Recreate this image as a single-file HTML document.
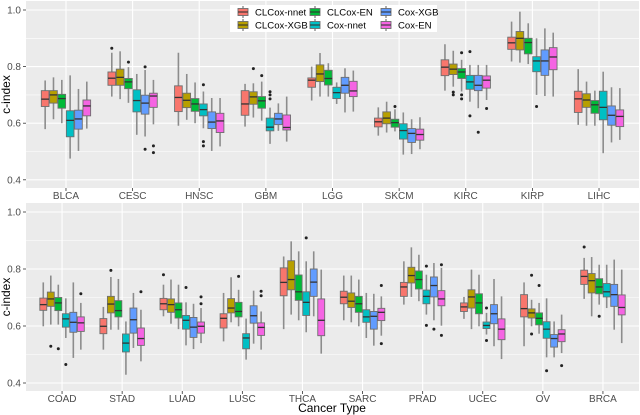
<!DOCTYPE html>
<html><head><meta charset="utf-8">
<style>
html,body{margin:0;padding:0;background:#fff;}
svg{display:block;font-family:"Liberation Sans",sans-serif;}
</style></head>
<body>
<svg id="chart" width="640" height="415" viewBox="0 0 640 415" xmlns="http://www.w3.org/2000/svg"></svg>
<script>
// ---------- data ----------
const methods = ["CLCox-nnet","CLCox-XGB","CLCox-EN","Cox-nnet","Cox-XGB","Cox-EN"];
const colors = ["#F8766D","#B79F00","#00BA38","#00BFC4","#619CFF","#F564E3"];
const yTicks = [0.4,0.6,0.8,1.0];
const yMinor = [0.5,0.7,0.9];
const topCats = ["BLCA","CESC","HNSC","GBM","LGG","SKCM","KIRC","KIRP","LIHC"];
const botCats = ["COAD","STAD","LUAD","LUSC","THCA","SARC","PRAD","UCEC","OV","BRCA"];
// each entry: [lowWhisker, q1, median, q3, highWhisker]
const top_clnnet = [[0.579,0.659,0.685,0.715,0.751],[0.694,0.734,0.759,0.781,0.849],[0.591,0.641,0.691,0.732,0.849],[0.588,0.628,0.668,0.715,0.739],[0.68,0.727,0.752,0.76,0.80],[0.556,0.587,0.605,0.618,0.656],[0.715,0.768,0.798,0.824,0.879],[0.818,0.861,0.884,0.904,0.959],[0.594,0.638,0.686,0.713,0.791]];
const top_clxgb = [[0.614,0.671,0.70,0.715,0.762],[0.685,0.734,0.762,0.791,0.854],[0.612,0.655,0.681,0.706,0.774],[0.62,0.667,0.693,0.711,0.741],[0.694,0.747,0.774,0.806,0.848],[0.567,0.598,0.618,0.64,0.676],[0.729,0.772,0.791,0.809,0.856],[0.814,0.859,0.90,0.924,0.994],[0.591,0.656,0.682,0.704,0.747]];
const top_clen = [[0.60,0.653,0.687,0.702,0.753],[0.672,0.722,0.746,0.758,0.798],[0.60,0.642,0.668,0.687,0.744],[0.609,0.653,0.679,0.694,0.747],[0.694,0.735,0.758,0.787,0.812],[0.571,0.586,0.602,0.614,0.649],[0.712,0.758,0.781,0.793,0.824],[0.809,0.845,0.885,0.90,0.953],[0.591,0.635,0.665,0.68,0.715]];
const top_coxnnet = [[0.475,0.552,0.61,0.644,0.769],[0.559,0.64,0.68,0.718,0.774],[0.582,0.626,0.648,0.668,0.712],[0.527,0.573,0.586,0.618,0.655],[0.668,0.687,0.708,0.727,0.744],[0.489,0.544,0.574,0.598,0.638],[0.676,0.72,0.746,0.769,0.806],[0.70,0.782,0.82,0.835,0.90],[0.494,0.612,0.656,0.713,0.782]];
const top_coxxgb = [[0.502,0.579,0.615,0.646,0.721],[0.553,0.632,0.671,0.699,0.788],[0.502,0.581,0.604,0.64,0.689],[0.573,0.595,0.615,0.635,0.67],[0.638,0.706,0.734,0.762,0.794],[0.491,0.532,0.564,0.581,0.614],[0.653,0.715,0.734,0.769,0.806],[0.696,0.769,0.82,0.859,0.935],[0.532,0.593,0.628,0.661,0.727]];
const top_coxen = [[0.581,0.626,0.661,0.682,0.747],[0.596,0.656,0.696,0.706,0.753],[0.518,0.567,0.608,0.635,0.689],[0.535,0.576,0.585,0.629,0.694],[0.641,0.694,0.714,0.748,0.786],[0.508,0.54,0.56,0.579,0.621],[0.682,0.724,0.752,0.767,0.806],[0.694,0.789,0.834,0.867,0.92],[0.541,0.588,0.624,0.647,0.724]];
// outliers: [categoryIndex, methodIndex, value]
const top_outliers = [[1,0,0.865],[1,2,0.816],[1,4,0.799],[1,4,0.508],[1,5,0.52],[1,5,0.496],[2,3,0.736],[2,3,0.535],[2,3,0.52],[3,1,0.793],[3,2,0.768],[3,3,0.711],[3,3,0.70],[3,3,0.686],[5,2,0.659],[6,1,0.71],[6,1,0.70],[6,2,0.849],[6,2,0.70],[6,2,0.686],[6,3,0.853],[6,3,0.626],[6,4,0.568],[6,5,0.652],[7,3,0.659]];
const bot_clnnet = [[0.599,0.655,0.675,0.698,0.753],[0.517,0.573,0.599,0.626,0.667],[0.634,0.657,0.678,0.697,0.745],[0.546,0.593,0.627,0.643,0.716],[0.589,0.706,0.753,0.804,0.844],[0.62,0.678,0.701,0.722,0.777],[0.675,0.704,0.737,0.753,0.827],[0.625,0.651,0.667,0.681,0.702],[0.529,0.632,0.661,0.71,0.753],[0.695,0.746,0.774,0.796,0.839]];
const bot_clxgb = [[0.605,0.669,0.695,0.719,0.777],[0.587,0.646,0.677,0.704,0.772],[0.608,0.648,0.675,0.695,0.763],[0.613,0.646,0.663,0.696,0.771],[0.64,0.727,0.763,0.829,0.897],[0.613,0.665,0.687,0.716,0.777],[0.702,0.751,0.777,0.806,0.876],[0.589,0.663,0.702,0.727,0.798],[0.599,0.628,0.646,0.66,0.692],[0.634,0.716,0.759,0.784,0.842]];
const bot_clen = [[0.605,0.654,0.681,0.70,0.745],[0.587,0.632,0.654,0.689,0.765],[0.589,0.628,0.657,0.681,0.745],[0.599,0.632,0.651,0.683,0.727],[0.62,0.69,0.72,0.779,0.862],[0.599,0.648,0.678,0.704,0.763],[0.687,0.73,0.763,0.793,0.85],[0.599,0.643,0.681,0.713,0.78],[0.573,0.604,0.627,0.646,0.681],[0.675,0.713,0.737,0.766,0.815]];
const bot_coxnnet = [[0.558,0.596,0.625,0.643,0.697],[0.429,0.509,0.54,0.572,0.616],[0.532,0.589,0.62,0.637,0.683],[0.482,0.52,0.558,0.573,0.626],[0.578,0.637,0.683,0.72,0.827],[0.558,0.613,0.632,0.657,0.716],[0.64,0.678,0.704,0.726,0.78],[0.57,0.591,0.602,0.614,0.646],[0.49,0.557,0.589,0.615,0.697],[0.663,0.702,0.72,0.749,0.815]];
const bot_coxxgb = [[0.488,0.578,0.613,0.648,0.753],[0.523,0.575,0.622,0.663,0.716],[0.519,0.56,0.596,0.63,0.678],[0.538,0.61,0.636,0.671,0.724],[0.634,0.704,0.754,0.80,0.862],[0.531,0.589,0.634,0.651,0.713],[0.62,0.702,0.742,0.772,0.821],[0.529,0.608,0.643,0.675,0.765],[0.49,0.526,0.556,0.57,0.616],[0.587,0.669,0.71,0.746,0.833]];
const bot_coxen = [[0.517,0.581,0.611,0.632,0.681],[0.476,0.532,0.556,0.593,0.657],[0.54,0.575,0.599,0.614,0.663],[0.517,0.567,0.595,0.611,0.651],[0.503,0.566,0.62,0.695,0.798],[0.566,0.619,0.648,0.662,0.704],[0.601,0.671,0.695,0.724,0.804],[0.484,0.552,0.589,0.625,0.704],[0.505,0.545,0.572,0.587,0.64],[0.54,0.639,0.665,0.709,0.798]];
const bot_outliers = [[0,1,0.529],[0,2,0.52],[0,3,0.465],[0,5,0.713],[1,1,0.795],[1,5,0.72],[2,0,0.78],[2,3,0.735],[2,5,0.702],[2,5,0.678],[3,2,0.774],[3,5,0.722],[3,5,0.706],[4,3,0.909],[5,5,0.742],[5,5,0.538],[6,3,0.81],[6,3,0.602],[6,4,0.589],[6,5,0.815],[6,5,0.567],[7,3,0.663],[7,3,0.549],[8,1,0.778],[8,1,0.572],[8,2,0.742],[8,3,0.443],[8,5,0.461],[9,0,0.877],[9,2,0.634]];

// ---------- drawing ----------
const NS = "http://www.w3.org/2000/svg";
const svg = document.getElementById("chart");
function mk(tag, attrs, parent){
  const e = document.createElementNS(NS, tag);
  for (const k in attrs) e.setAttribute(k, attrs[k]);
  (parent||svg).appendChild(e);
  return e;
}
function drawPanel(p){
  const g = mk("g", {});
  
  
  const left = 26, right = 639;
  const y = v => p.y0 + (p.vTop - v) * p.scale;
  const step = (right-left)/(p.cats.length - 1 + 1.2);
  const x = i => left + step*(0.6 + i);
  const bg = mk("rect", {x:left, y:p.top, width:right-left, height:p.bottom-p.top, fill:"#EBEBEB"}, g);
  
  
  yMinor.forEach(v => mk("line",{x1:left,x2:right,y1:y(v),y2:y(v),stroke:"#fff","stroke-width":0.6},g));
  yTicks.forEach(v => {
    mk("line",{x1:left,x2:right,y1:y(v),y2:y(v),stroke:"#fff","stroke-width":1.1},g);
    mk("line",{x1:left-3,x2:left,y1:y(v),y2:y(v),stroke:"#333","stroke-width":0.8},g);
    const t = mk("text",{x:left-5,y:y(v)+3.5,"text-anchor":"end","font-size":"10",fill:"#4D4D4D"},g);
    t.textContent = v.toFixed(1);
    
    
  });
  p.cats.forEach((c,i) => {
    mk("line",{x1:x(i),x2:x(i),y1:p.top,y2:p.bottom,stroke:"#fff","stroke-width":1.1},g);
    mk("line",{x1:x(i),x2:x(i),y1:p.bottom,y2:p.bottom+3,stroke:"#333","stroke-width":0.8},g);
    const t = mk("text",{x:x(i),y:p.bottom+11,"text-anchor":"middle","font-size":"10",fill:"#4D4D4D"},g);
    t.textContent = c;
    
    
  });
  const dw = step*0.75/6;
  const bw = dw*0.92;
  const xm = (i,m) => x(i) + (m - 2.5)*dw;
  p.series.forEach((arr, m) => {
    arr.forEach((s, i) => {
      const cx = xm(i,m);
      const bx = mk("g",{},g);
      
      
      mk("line",{x1:cx,x2:cx,y1:y(s[4]),y2:y(s[3]),stroke:"#8C8C8C","stroke-width":1.6},bx);
      mk("line",{x1:cx,x2:cx,y1:y(s[1]),y2:y(s[0]),stroke:"#8C8C8C","stroke-width":1.6},bx);
      mk("rect",{x:cx-bw/2,y:y(s[3]),width:bw,height:Math.max(1,y(s[1])-y(s[3])),fill:colors[m],stroke:"#6E6E6E","stroke-width":0.9},bx);
      mk("line",{x1:cx-bw/2,x2:cx+bw/2,y1:y(s[2]),y2:y(s[2]),stroke:"#333","stroke-width":1.3},bx);
    });
  });
  p.outliers.forEach(o => {
    const d = mk("circle",{cx:xm(o[0],o[1]),cy:y(o[2]),r:1.5,fill:"#222"},g);
    
    
  });
  const yt = mk("text",{x:0,y:0,"font-size":"12",fill:"#000","text-anchor":"middle",transform:`translate(10,${(p.top+p.bottom)/2}) rotate(-90)`},g);
  yt.textContent = "c-index";
  
  
}
drawPanel({name:"top-panel",cats:topCats,top:1,bottom:188,y0:10,vTop:1.0,scale:283,
  series:[top_clnnet,top_clxgb,top_clen,top_coxnnet,top_coxxgb,top_coxen],outliers:top_outliers});
drawPanel({name:"bottom-panel",cats:botCats,top:203,bottom:391,y0:212,vTop:1.0,scale:285,
  series:[bot_clnnet,bot_clxgb,bot_clen,bot_coxnnet,bot_coxxgb,bot_coxen],outliers:bot_outliers});

const xt = mk("text",{x:332,y:412,"text-anchor":"middle","font-size":"12",fill:"#000"});
xt.textContent = "Cancer Type";



// legend
const lg = mk("g",{});


mk("rect",{x:230,y:5,width:207,height:27,fill:"#fff"},lg);
const legX = [243,315,386];
methods.forEach((mName, m) => {
  const col = Math.floor(m/2), row = m%2;
  const kx = legX[col], ky = 12 + row*13;
  const e = mk("g",{},lg);
  
  
  mk("line",{x1:kx,x2:kx,y1:ky-6,y2:ky+6,stroke:"#8C8C8C","stroke-width":1.4},e);
  mk("rect",{x:kx-5,y:ky-3.5,width:10,height:7,fill:colors[m],stroke:"#6E6E6E","stroke-width":0.9},e);
  mk("line",{x1:kx-5,x2:kx+5,y1:ky,y2:ky,stroke:"#333","stroke-width":1.1},e);
  const t = mk("text",{x:kx+12,y:ky+3.5,"font-size":"9.6",fill:"#000"},e);
  t.textContent = mName;
});
</script>
</body></html>
